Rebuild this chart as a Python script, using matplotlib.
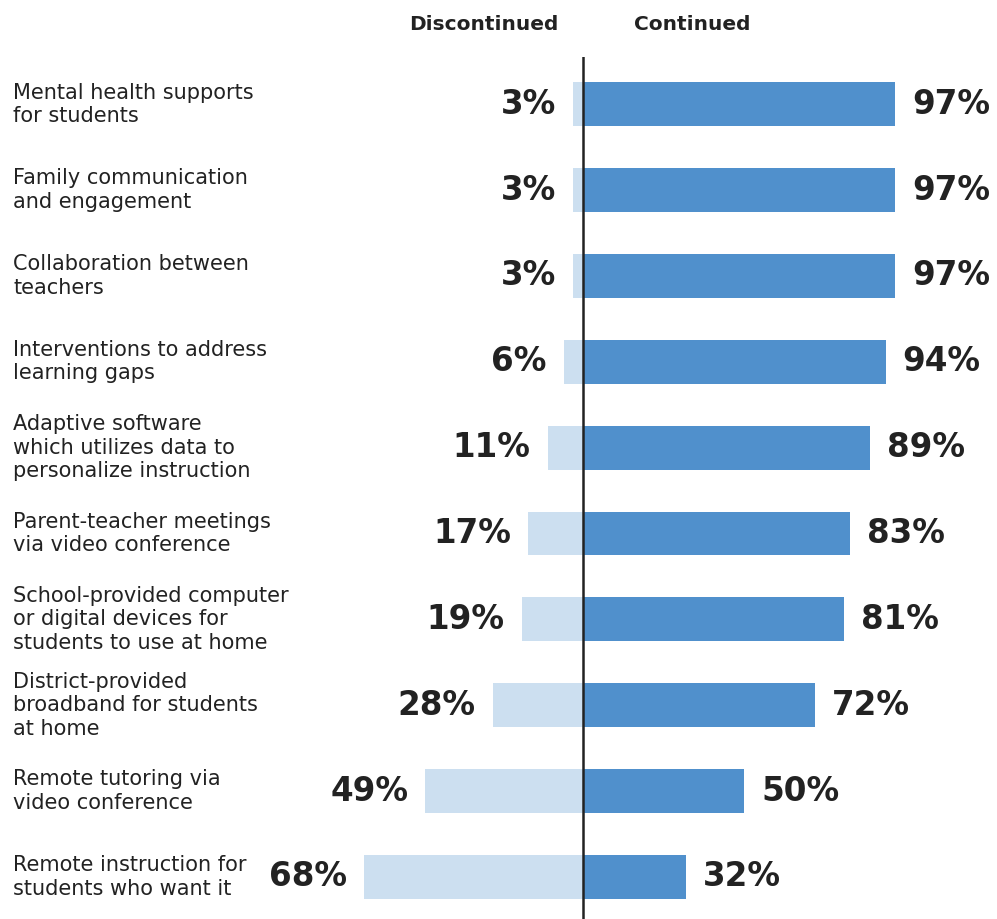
import numpy as np
import matplotlib
matplotlib.use('Agg')
import matplotlib.pyplot as plt

# Survey items, top to bottom
items = ['Mental health supports\nfor students',
         'Family communication\nand engagement',
         'Collaboration between\nteachers',
         'Interventions to address\nlearning gaps',
         'Adaptive software\nwhich utilizes data to\npersonalize instruction',
         'Parent-teacher meetings\nvia video conference',
         'School-provided computer\nor digital devices for\nstudents to use at home',
         'District-provided\nbroadband for students\nat home',
         'Remote tutoring via\nvideo conference',
         'Remote instruction for\nstudents who want it']
discontinued = [3, 3, 3, 6, 11, 17, 19, 28, 49, 68]
continued = [97, 97, 97, 94, 89, 83, 81, 72, 50, 32]

dark_blue = '#5090cc'
light_blue = '#ccdff0'
txt = '#222222'

W, H = 997, 919
fig = plt.figure(figsize=(W/100, H/100), dpi=100)

# axes: center line at x=583 px, 3.22 px per percent
center = 583
scale = 3.22
left_px = center - 100*scale
ax = fig.add_axes([left_px/W, 0, 200*scale/W, (H-57)/H])
ax.set_xlim(-100, 100)
ax.set_ylim(9.49, -0.55)

y = np.arange(len(items))
ax.barh(y, [-d for d in discontinued], height=0.51, color=light_blue)
ax.barh(y, continued, height=0.51, color=dark_blue)
ax.axvline(0, color=txt, lw=1.8)

gap = 17/scale
for i in range(len(items)):
    ax.text(-discontinued[i]-gap, y[i], str(discontinued[i]) + '%', ha='right', va='center',
            fontsize=23.5, fontweight='bold', color=txt)
    ax.text(continued[i]+gap, y[i], str(continued[i]) + '%', ha='left', va='center',
            fontsize=23.5, fontweight='bold', color=txt)
    fig.text(13/W, 1 - (57 + (y[i]+0.55)*(H-57)/10.04)/H, items[i], ha='left', va='center',
             fontsize=15, color=txt, linespacing=1.21)

ax.axis('off')

fig.text(484/W, 1-25/H, 'Discontinued', ha='center', va='center', fontsize=14.5,
         fontweight='bold', color=txt)
fig.text(692/W, 1-25/H, 'Continued', ha='center', va='center', fontsize=14.5,
         fontweight='bold', color=txt)

fig.savefig('out.png', dpi=100)
